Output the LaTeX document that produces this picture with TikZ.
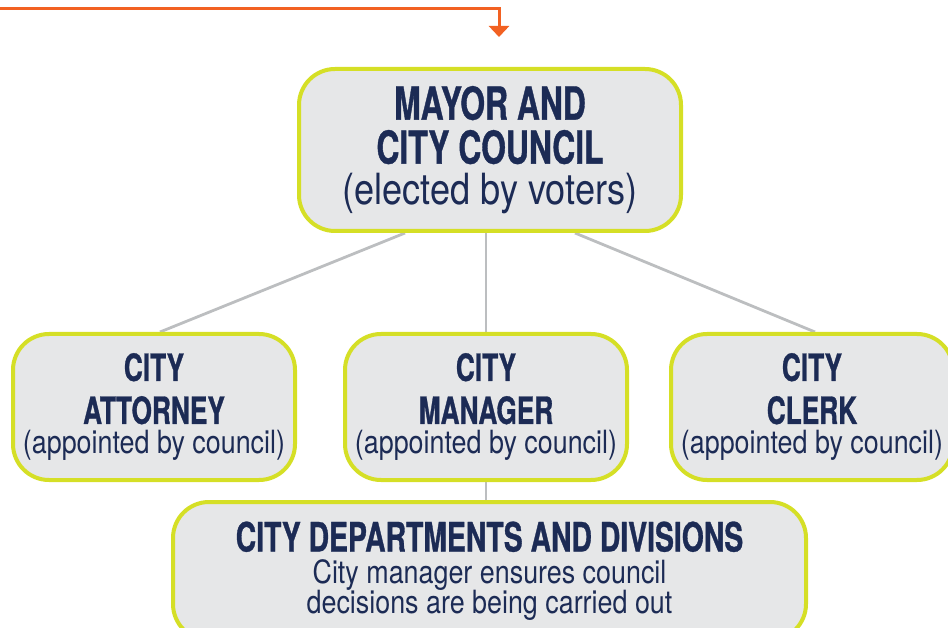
\documentclass[tikz,border=0pt]{standalone}
\usepackage{fontspec}
\usetikzlibrary{arrows.meta, backgrounds}

\newfontfamily\headfont{TeX Gyre Heros}[FakeStretch=0.7, BoldFeatures={FakeBold=0.8}]
\newfontfamily\subfont{TeX Gyre Heros}[FakeStretch=0.84]

\definecolor{navy}{HTML}{1C2B55}
\definecolor{limeline}{HTML}{D5DF26}
\definecolor{boxgray}{HTML}{E6E7E8}
\definecolor{linkgray}{HTML}{BCBEC0}
\definecolor{feedorange}{HTML}{F26122}

\begin{document}
\begin{tikzpicture}[x=1pt, y=-1pt]
    % settings for this picture
    \tikzset{
      office/.style={draw=limeline, line width=4pt, fill=boxgray, rounded corners=36pt,
        text=navy, align=center, inner sep=0pt},
      council/.style={office, minimum width=382pt, minimum height=162pt,
        font=\headfont\bfseries\fontsize{45.5}{44}\selectfont},
      staff/.style={office, minimum width=282pt, minimum height=146pt,
        font=\headfont\bfseries\fontsize{37.5}{43}\selectfont},
      dept/.style={office, minimum width=633pt, minimum height=138pt,
        font=\headfont\bfseries\fontsize{40.5}{32}\selectfont},
      link/.style={draw=linkgray, line width=2.8pt},
      feed/.style={draw=feedorange, line width=3pt, -{Triangle[width=20pt,length=11pt]}},
    }
    \useasboundingbox (0,0) rectangle (948,628);

    % boxes
    \node[council] (mayor) at (490,150) {MAYOR AND\\CITY COUNCIL\\[-3pt]
      {\subfont\mdseries\fontsize{43}{44}\selectfont (elected by voters)}};
    \node[staff] (attorney) at (154,407) {CITY\\ATTORNEY\\[-13pt]
      {\subfont\mdseries\fontsize{32}{30}\selectfont (appointed by council)}};
    \node[staff] (manager) at (486,407) {CITY\\MANAGER\\[-13pt]
      {\subfont\mdseries\fontsize{32}{30}\selectfont (appointed by council)}};
    \node[staff] (clerk) at (812,407) {CITY\\CLERK\\[-13pt]
      {\subfont\mdseries\fontsize{32}{30}\selectfont (appointed by council)}};
    \node[dept] (depts) at (489.5,571) {CITY DEPARTMENTS AND DIVISIONS\\
      {\subfont\mdseries\fontsize{32}{30}\selectfont City manager ensures council}\\[-2pt]
      {\subfont\mdseries\fontsize{32}{30}\selectfont decisions are being carried out}};

    % incoming line
    \coordinate (feedstart) at (0,8.5);
    \coordinate (entry) at (499,37);
    \draw[feed] (feedstart) -| (entry);

    % connectors
    \begin{scope}[on background layer]
      \draw[link] ([xshift=-85pt]mayor.south) -- ([xshift=6pt]attorney.north);
      \draw[link] (manager.north |- mayor.south) -- (manager.north);
      \draw[link] ([xshift=85pt]mayor.south) -- ([xshift=3pt]clerk.north);
      \draw[link] (manager.south) -- (manager.south |- depts.north);
    \end{scope}

\end{tikzpicture}
\end{document}
